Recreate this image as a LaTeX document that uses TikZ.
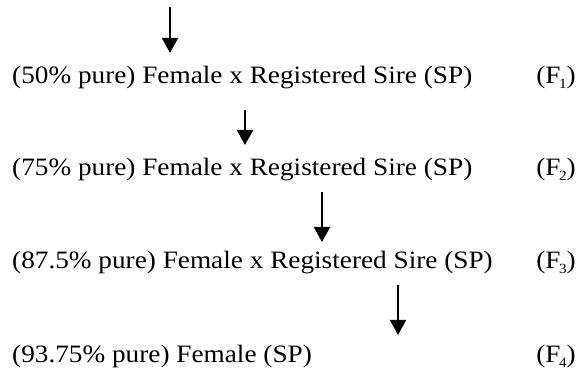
\documentclass[tikz,border=0pt]{standalone}
\usepackage{fontspec}
\setmainfont{Liberation Serif}[FakeStretch=1.09]
\usetikzlibrary{arrows.meta}
\newcommand{\gensub}[1]{(F\kern-1.5pt\raisebox{-4.5pt}{\fontsize{14}{14}\selectfont #1})}
\tikzset{
  rowtext/.style={anchor=base west, inner sep=0pt, font=\fontsize{25}{29}\selectfont},
  gen/.style={anchor=base east, inner sep=0pt, font=\fontsize{25}{29}\selectfont},
  downarrow/.style={line width=2pt, -{Triangle[width=16pt,length=15pt]}}
}
\begin{document}
\begin{tikzpicture}[x=1pt,y=-1pt]
\useasboundingbox (0,0) rectangle (579,371);
\node[rowtext] (r1) at (12,84) {(50\% pure) Female x Registered Sire (SP)};
\node[rowtext] (r2) at (12,176) {(75\% pure) Female x Registered Sire (SP)};
\node[rowtext] (r3) at (12,269) {(87.5\% pure) Female x Registered Sire (SP)};
\node[rowtext] (r4) at (12,363) {(93.75\% pure) Female (SP)};
\node[gen] (f1) at (576,84) {\gensub{1}};
\node[gen] (f2) at (576,176) {\gensub{2}};
\node[gen] (f3) at (576,269) {\gensub{3}};
\node[gen] (f4) at (576,363) {\gensub{4}};
\coordinate (a1s) at (170,7);   \coordinate (a1e) at (170,53);
\coordinate (a2s) at (245,110); \coordinate (a2e) at (245,145);
\coordinate (a3s) at (322,192); \coordinate (a3e) at (322,242);
\coordinate (a4s) at (398,285); \coordinate (a4e) at (398,335);
\draw[downarrow] (a1s) -- (a1e);
\draw[downarrow] (a2s) -- (a2e);
\draw[downarrow] (a3s) -- (a3e);
\draw[downarrow] (a4s) -- (a4e);
\end{tikzpicture}
\end{document}
